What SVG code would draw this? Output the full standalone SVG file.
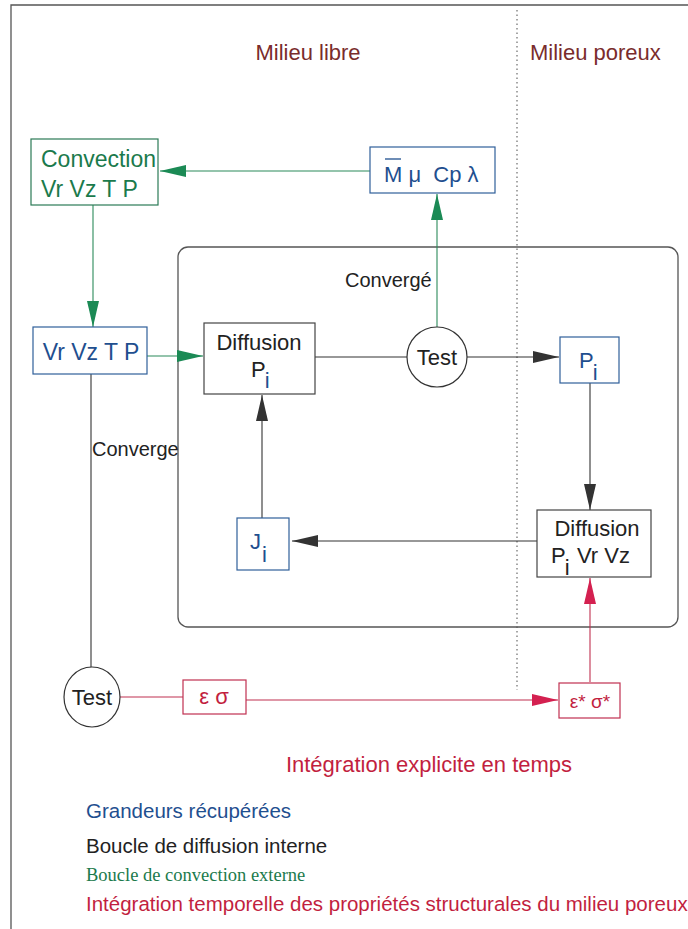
<svg xmlns="http://www.w3.org/2000/svg" width="688" height="929" viewBox="0 0 688 929">
<style>
text{font-family:"Liberation Sans",Arial,sans-serif}
.t{font-size:22px}
.m{font-size:20px}
.lg20{font-size:20.5px}
.blk{fill:#222}
.blu{fill:#1f4f8f}
.grn{fill:#1b7a4c}
.red{fill:#c21f3f}
.brn{fill:#7a2c2c}
.bxb{fill:#fff;stroke:#2f5f9a;stroke-width:1.2}
.bxk{fill:#fff;stroke:#444;stroke-width:1.2}
.bxg{fill:#fff;stroke:#2b7a55;stroke-width:1.2}
.bxr{fill:#fff;stroke:#c03050;stroke-width:1.2}
.lk{stroke:#333;stroke-width:1.1;fill:none}
.lg{stroke:#2b8a5a;stroke-width:1.1;fill:none}
.lr{stroke:#c03050;stroke-width:1.1;fill:none}
</style>
<defs>
<marker id="ak" markerWidth="26" markerHeight="12" refX="26" refY="6" orient="auto" markerUnits="userSpaceOnUse"><path d="M0,0 L26,6 L0,12 Z" fill="#333"/></marker>
<marker id="ag" markerWidth="26" markerHeight="12" refX="26" refY="6" orient="auto" markerUnits="userSpaceOnUse"><path d="M0,0 L26,6 L0,12 Z" fill="#1b8a55"/></marker>
<marker id="ar" markerWidth="26" markerHeight="12" refX="26" refY="6" orient="auto" markerUnits="userSpaceOnUse"><path d="M0,0 L26,6 L0,12 Z" fill="#d42050"/></marker>
</defs>
<rect width="688" height="929" fill="#fff"/>
<g id="frame">
<path d="M11,929 V5 H688" fill="none" stroke="#555" stroke-width="1.3"/>
<line x1="517" y1="10" x2="517" y2="690" stroke="#777" stroke-width="1.3" stroke-dasharray="1.5,3"/>
<rect x="178" y="247" width="500" height="380" rx="10" fill="none" stroke="#555" stroke-width="1.3"/>
</g>
<g id="headers">
<text x="308" y="60" class="t brn" text-anchor="middle">Milieu libre</text>
<text x="530" y="60" class="t brn">Milieu poreux</text>
</g>
<g id="connectors">
<line class="lg" x1="370" y1="171" x2="160" y2="171" marker-end="url(#ag)"/>
<line class="lg" x1="437" y1="327" x2="437" y2="194" marker-end="url(#ag)"/>
<line class="lg" x1="93" y1="205" x2="93" y2="327" marker-end="url(#ag)"/>
<line class="lg" x1="147" y1="356" x2="203" y2="356" marker-end="url(#ag)"/>
<line class="lk" x1="315" y1="357" x2="407" y2="357"/>
<line class="lk" x1="467" y1="357" x2="559" y2="357" marker-end="url(#ak)"/>
<line class="lk" x1="590" y1="383" x2="590" y2="510" marker-end="url(#ak)"/>
<line class="lk" x1="537" y1="541" x2="292" y2="541" marker-end="url(#ak)"/>
<line class="lk" x1="262" y1="518" x2="262" y2="395" marker-end="url(#ak)"/>
<line class="lk" x1="91" y1="374" x2="91" y2="668"/>
<line class="lr" x1="120" y1="697" x2="183" y2="697"/>
<line class="lr" x1="246" y1="700" x2="558" y2="700" marker-end="url(#ar)"/>
<line class="lr" x1="590" y1="682" x2="590" y2="578" marker-end="url(#ar)"/>
</g>
<g id="convection">
<rect class="bxg" x="31" y="139" width="127" height="66"/>
<text x="41" y="167" class="grn" style="font-size:23px">Convection</text>
<text x="41" y="197" class="grn" style="font-size:23px">Vr Vz T P</text>
</g>
<g id="props">
<rect class="bxb" x="370" y="147" width="125" height="46"/>
<line x1="385" y1="159" x2="401" y2="159" stroke="#1f4f8f" stroke-width="1.3"/>
<text x="384" y="182" class="t blu" xml:space="preserve">M μ  Cp λ</text>
</g>
<g id="vrvztp">
<rect class="bxb" x="33" y="327" width="114" height="47"/>
<text x="91" y="360" class="blu" style="font-size:23px" text-anchor="middle">Vr Vz T P</text>
</g>
<g id="diffusion1">
<rect class="bxk" x="204" y="323" width="111" height="71"/>
<text x="259" y="350" class="t blk" text-anchor="middle">Diffusion</text>
<text x="251" y="377" class="t blk">P<tspan class="blu" dx="-1" dy="11">i</tspan></text>
</g>
<g id="test1">
<circle cx="437" cy="357" r="30" fill="#fff" stroke="#333" stroke-width="1.2"/>
<text x="437" y="365" class="t blk" text-anchor="middle">Test</text>
</g>
<text x="345" y="287" class="m blk">Convergé</text>
<g id="pi">
<rect class="bxb" x="560" y="337" width="59" height="46"/>
<text x="579" y="368" class="t blu">P<tspan dx="-1" dy="12">i</tspan></text>
</g>
<g id="diffusion2">
<rect class="bxk" x="537" y="510" width="114" height="67"/>
<text x="597" y="536" class="t blk" text-anchor="middle">Diffusion</text>
<text x="551" y="563" class="t blk">P<tspan dx="-1" dy="12">i</tspan><tspan x="577" dy="-12">Vr Vz</tspan></text>
</g>
<g id="ji">
<rect class="bxb" x="237" y="518" width="52" height="52"/>
<text x="250" y="549" class="t blu">J<tspan dx="1" dy="13">i</tspan></text>
</g>
<text x="92" y="456" class="m blk">Converge</text>
<g id="test2">
<ellipse cx="92" cy="697" rx="28" ry="30" fill="#fff" stroke="#333" stroke-width="1.2"/>
<text x="92" y="705" class="t blk" text-anchor="middle">Test</text>
</g>
<g id="epssig">
<rect class="bxr" x="183" y="680" width="63" height="34"/>
<text x="214" y="704" class="t red" text-anchor="middle">ε σ</text>
</g>
<g id="epssigstar">
<rect class="bxr" x="559" y="683" width="61" height="35"/>
<text x="590" y="708" class="red" style="font-size:19px" text-anchor="middle">ε* σ*</text>
</g>
<text x="429" y="772" class="red" style="font-size:22px" text-anchor="middle">Intégration explicite en temps</text>
<g id="legend">
<text x="86" y="818" class="blu lg20">Grandeurs récupérées</text>
<text x="86" y="853" class="blk lg20">Boucle de diffusion interne</text>
<text x="86" y="881" class="grn" style="font-size:18.5px;font-family:'Liberation Serif',serif">Boucle de convection externe</text>
<text x="86" y="911" class="red lg20">Intégration temporelle des propriétés structurales du milieu poreux</text>
</g>
</svg>
